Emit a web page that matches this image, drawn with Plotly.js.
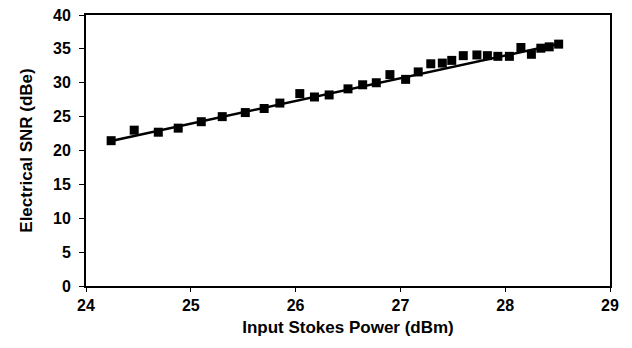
<!DOCTYPE html>
<html>
<head>
<meta charset="utf-8">
<script src="https://cdn.plot.ly/plotly-3.0.1.min.js"></script>
<style>html,body{margin:0;padding:0;background:#fff;}#chart{width:632px;height:348px;}
#chart .xtick text, #chart .ytick text{font-weight:bold !important;}</style>
</head>
<body>
<div id="chart"></div>
<script>
var powerX = [24.24, 24.46, 24.69, 24.88, 25.10, 25.30, 25.52, 25.70, 25.85, 26.04, 26.18, 26.32, 26.50, 26.64, 26.77, 26.90, 27.05, 27.17, 27.29, 27.40, 27.49, 27.60, 27.73, 27.83, 27.93, 28.04, 28.15, 28.25, 28.34, 28.42, 28.51];
var snrY = [21.45, 23.0, 22.7, 23.3, 24.25, 25.0, 25.6, 26.2, 27.0, 28.4, 27.9, 28.2, 29.1, 29.7, 30.0, 31.2, 30.5, 31.6, 32.8, 32.9, 33.3, 34.0, 34.1, 34.0, 33.9, 33.9, 35.2, 34.2, 35.1, 35.3, 35.7];
var fitX = [24.24, 26.40, 28.53];
var fitY = [21.4, 28.7, 35.8];
var xTicks = [24, 25, 26, 27, 28, 29];
var yTicks = [0, 5, 10, 15, 20, 25, 30, 35, 40];

var traces = [
  {x: fitX, y: fitY, mode: 'lines', line: {color: '#000', width: 2.5}, hoverinfo: 'skip', showlegend: false},
  {x: powerX, y: snrY, mode: 'markers', marker: {symbol: 'square', size: 9, color: '#000'}, showlegend: false}
];
var fontFam = 'Liberation Sans, Arial, sans-serif';
var layout = {
  width: 632, height: 348,
  margin: {l: 86, r: 22, t: 15, b: 62},
  paper_bgcolor: '#fff', plot_bgcolor: '#fff',
  font: {family: fontFam, color: '#000'},
  xaxis: {
    range: [24, 29], tickvals: xTicks, ticktext: xTicks.map(function(v){return '<b>' + v + '</b>';}),
    showgrid: false, zeroline: false, showline: true, mirror: true, linecolor: '#000', linewidth: 2,
    ticks: 'outside', ticklen: 4, tickwidth: 1, tickcolor: '#000',
    tickfont: {family: fontFam, size: 16, color: '#000', weight: 700},
    title: {text: '<b>Input Stokes Power (dBm)</b>', font: {family: fontFam, size: 17, color: '#000'}, standoff: 8}
  },
  yaxis: {
    range: [0, 40], tickvals: yTicks, ticktext: yTicks.map(function(v){return '<b>' + v + '</b>';}),
    showgrid: false, zeroline: false, showline: true, mirror: true, linecolor: '#000', linewidth: 2,
    ticks: 'outside', ticklen: 5, tickwidth: 1, tickcolor: '#000', ticklabelstandoff: 5,
    tickfont: {family: fontFam, size: 16, color: '#000', weight: 700},
    title: {text: '<b>Electrical SNR (dBe)</b>', font: {family: fontFam, size: 17, color: '#000'}, standoff: 16}
  }
};
Plotly.newPlot('chart', traces, layout, {displayModeBar: false, staticPlot: true});
</script>
</body>
</html>
